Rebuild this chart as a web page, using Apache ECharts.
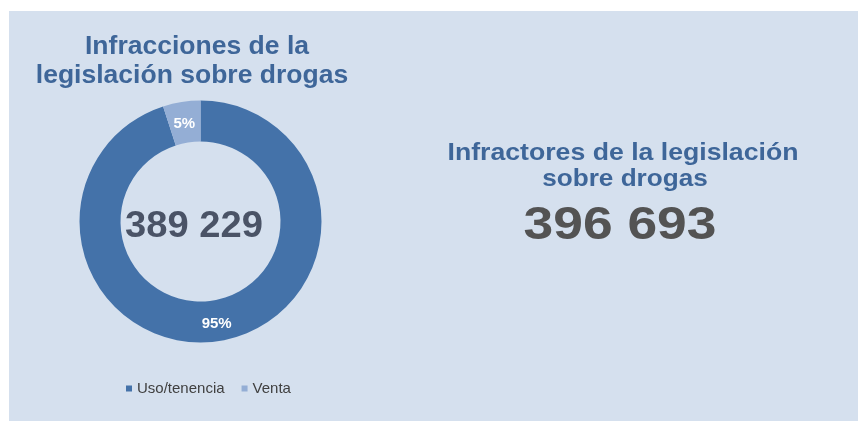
<!DOCTYPE html>
<html>
<head>
<meta charset="utf-8">
<script src="https://cdn.jsdelivr.net/npm/echarts@6/dist/echarts.min.js"></script>
<style>
html,body{margin:0;padding:0;background:#ffffff;}
#c{width:858px;height:421px;}
</style>
</head>
<body>
<div id="c"></div>
<script>
var categories = ['Uso/tenencia', 'Venta'];
var shares = [95, 5];
var totalInfracciones = '389 229';
var totalInfractores = '396 693';
var leftTitle = ['Infracciones de la', 'legislación sobre drogas'];
var rightTitle = ['Infractores de la legislación', 'sobre drogas'];
var colors = ['#4472a9', '#94aed5'];

var chart = echarts.init(document.getElementById('c'), null, {renderer: 'canvas'});
var FONT = '"Liberation Sans", Arial, sans-serif';

function txt(x, y, sx, s, fill, size) {
  return {type: 'text', x: x, y: y, scaleX: sx, silent: true,
    style: {text: s, fill: fill, font: 'bold ' + size + 'px ' + FONT, align: 'center', verticalAlign: 'top'}};
}

var option = {
  backgroundColor: '#ffffff',
  color: colors,
  animation: false,
  graphic: [
    {type: 'rect', z: -10, silent: true, shape: {x: 9, y: 11, width: 849, height: 410}, style: {fill: '#d5e0ee'}},
    txt(197, 34, 1.04, leftTitle[0], '#3e6699', 25.5),
    txt(192, 63, 1.04, leftTitle[1], '#3e6699', 25.5),
    txt(194, 209, 1.06, totalInfracciones, '#4a5366', 36),
    txt(623, 141, 1.11, rightTitle[0], '#3e6699', 24),
    txt(625, 167, 1.09, rightTitle[1], '#3e6699', 24),
    txt(620, 203, 1.16, totalInfractores, '#535353', 46)
  ],
  legend: {
    data: categories,
    left: 121,
    top: 376,
    icon: 'rect',
    itemWidth: 6,
    itemHeight: 6,
    itemGap: 17,
    textStyle: {fontFamily: FONT, fontSize: 15, color: '#404040'}
  },
  series: [{
    type: 'pie',
    center: [200.5, 221.5],
    radius: [80, 121],
    startAngle: 90,
    clockwise: true,
    avoidLabelOverlap: false,
    label: {
      show: true,
      position: 'inside',
      formatter: '{c}%',
      color: '#ffffff',
      fontFamily: FONT,
      fontWeight: 'bold',
      fontSize: 15
    },
    labelLine: {show: false},
    itemStyle: {borderWidth: 0},
    emphasis: {disabled: true},
    data: categories.map(function (c, i) {
      var d = {name: c, value: shares[i]};
      if (i === 1) { d.label = {offset: [0, 5]}; }
      return d;
    })
  }]
};
chart.setOption(option);
</script>
</body>
</html>
